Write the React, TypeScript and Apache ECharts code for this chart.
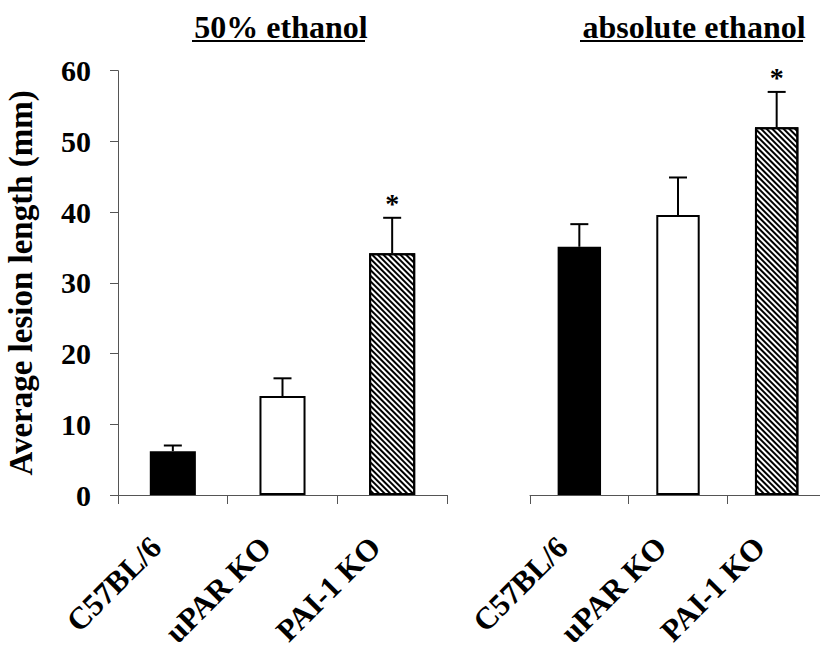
import React, { useEffect, useRef } from "react";
import * as echarts from "echarts";

const categories = ["C57BL/6", "uPAR KO", "PAI-1 KO"];
const panelTitles = ["50% ethanol", "absolute ethanol"];
const yTicks = { min: 0, max: 60, interval: 10 };

const means50 = [6.2, 14.0, 34.2];
const err50 = [0.8, 2.5, 5.0];
const stars50 = [false, false, true];

const meansAbs = [35.1, 39.6, 52.0];
const errAbs = [3.2, 5.3, 5.0];
const starsAbs = [false, false, true];

const FONT = '"Liberation Serif", "Times New Roman", serif';

const fillStyles = [
  { color: "#000000" },
  { color: "#ffffff" },
  {
    color: "#ffffff",
    decal: {
      symbol: "rect",
      symbolSize: 1,
      dashArrayX: [1, 0],
      dashArrayY: [1.2, 1.8],
      rotation: Math.PI / 4,
      color: "#000000",
      backgroundColor: "#ffffff",
    },
  },
];

function barData(means: number[]) {
  return means.map((v, i) => ({
    value: v,
    itemStyle: { ...fillStyles[i], borderColor: "#000", borderWidth: 2 },
  }));
}

function errData(means: number[], errs: number[], stars: boolean[]) {
  return means.map((v, i) => [i, v, v + errs[i], stars[i] ? 1 : 0]);
}

function renderErr(params: any, api: any) {
  const idx = api.value(0);
  const base = api.coord([idx, api.value(1)]);
  const top = api.coord([idx, api.value(2)]);
  const cap = 9;
  const children: any[] = [
    {
      type: "line",
      shape: { x1: base[0], y1: base[1], x2: top[0], y2: top[1] },
      style: { stroke: "#000", lineWidth: 2 },
    },
    {
      type: "line",
      shape: { x1: top[0] - cap, y1: top[1], x2: top[0] + cap, y2: top[1] },
      style: { stroke: "#000", lineWidth: 2 },
    },
  ];
  if (api.value(3) === 1) {
    children.push({
      type: "text",
      x: top[0],
      y: top[1] - 14,
      style: {
        text: "*",
        font: `bold 28px ${FONT}`,
        fill: "#000",
        align: "center",
        verticalAlign: "middle",
      },
    });
  }
  return { type: "group", children };
}

export default function App() {
  const ref = useRef<HTMLDivElement>(null);
  useEffect(() => {
    if (!ref.current) return;
    const chart = echarts.init(ref.current, null, { renderer: "svg" });
    const axisLine = { show: true, lineStyle: { color: "#555", width: 1 } };
    const xLabel = {
      interval: 0,
      rotate: 45,
      margin: 30,
      padding: [0, 24, 0, 0],
      color: "#000",
      fontFamily: FONT,
      fontWeight: "bold" as const,
      fontSize: 31,
    };
    const titleStyle = {
      color: "#000",
      fontFamily: FONT,
      fontWeight: "bold" as const,
      fontSize: 32,
    };
    chart.setOption({
      animation: false,
      backgroundColor: "#fff",
      title: [
        { text: panelTitles[0], left: 276, top: 6, textAlign: "center", textStyle: titleStyle },
        { text: panelTitles[1], left: 689, top: 6, textAlign: "center", textStyle: titleStyle },
      ],
      graphic: [
        { type: "line", shape: { x1: 192, y1: 41, x2: 365, y2: 41 }, style: { stroke: "#000", lineWidth: 2 } },
        { type: "line", shape: { x1: 580, y1: 41, x2: 803, y2: 41 }, style: { stroke: "#000", lineWidth: 2 } },
      ],
      grid: [
        { left: 118, top: 70.7, width: 329, height: 424.3, outerBoundsMode: "none", containLabel: false },
        { left: 530, top: 70.7, width: 296, height: 424.3, outerBoundsMode: "none", containLabel: false },
      ],
      xAxis: [
        {
          type: "category",
          gridIndex: 0,
          data: categories,
          axisLine,
          axisTick: { show: true, length: 9, lineStyle: { color: "#555" } },
          axisLabel: xLabel,
        },
        {
          type: "category",
          gridIndex: 1,
          data: categories,
          axisLine,
          axisTick: { show: true, length: 9, lineStyle: { color: "#555" } },
          axisLabel: xLabel,
        },
      ],
      yAxis: [
        {
          type: "value",
          gridIndex: 0,
          min: yTicks.min,
          max: yTicks.max,
          interval: yTicks.interval,
          axisLine,
          axisTick: { show: true, length: 8, lineStyle: { color: "#555" } },
          splitLine: { show: false },
          axisLabel: {
            margin: 27,
            color: "#000",
            fontFamily: FONT,
            fontWeight: "bold",
            fontSize: 30,
          },
          name: "Average lesion length (mm)",
          nameLocation: "middle",
          nameRotate: 90,
          nameGap: 81,
          nameTextStyle: {
            color: "#000",
            fontFamily: FONT,
            fontWeight: "bold",
            fontSize: 33,
          },
        },
        {
          type: "value",
          gridIndex: 1,
          min: yTicks.min,
          max: yTicks.max,
          interval: yTicks.interval,
          show: false,
          splitLine: { show: false },
        },
      ],
      series: [
        {
          type: "bar",
          xAxisIndex: 0,
          yAxisIndex: 0,
          barWidth: "42%",
          data: barData(means50),
        },
        {
          type: "bar",
          xAxisIndex: 1,
          yAxisIndex: 1,
          barWidth: "44%",
          data: barData(meansAbs),
        },
        {
          type: "custom",
          xAxisIndex: 0,
          yAxisIndex: 0,
          renderItem: renderErr,
          data: errData(means50, err50, stars50),
          z: 5,
        },
        {
          type: "custom",
          xAxisIndex: 1,
          yAxisIndex: 1,
          renderItem: renderErr,
          data: errData(meansAbs, errAbs, starsAbs),
          z: 5,
        },
      ],
    });
    return () => chart.dispose();
  }, []);
  return (
    <div
      ref={ref}
      style={{ position: "absolute", left: 0, top: 0, width: 820, height: 650 }}
    />
  );
}
